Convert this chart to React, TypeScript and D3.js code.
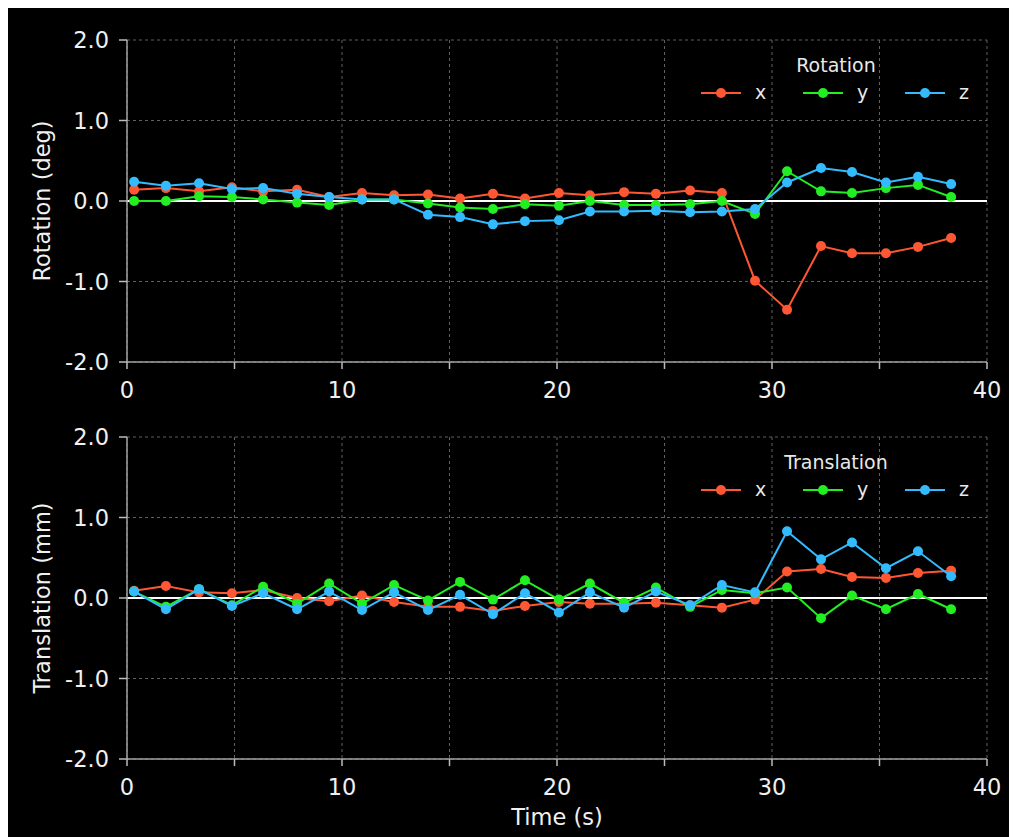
import React from "react";
import * as d3 from "d3";

const times = [0.33, 1.81, 3.35, 4.88, 6.33, 7.91, 9.4, 10.93, 12.42, 14.0, 15.49, 17.02, 18.51, 20.09, 21.53, 23.12, 24.6, 26.19, 27.67, 29.21, 30.7, 32.28, 33.72, 35.3, 36.79, 38.33];

const rotX = [0.14, 0.16, 0.12, 0.17, 0.12, 0.14, 0.05, 0.1, 0.07, 0.08, 0.03, 0.09, 0.03, 0.1, 0.07, 0.11, 0.09, 0.13, 0.1, -0.99, -1.35, -0.56, -0.65, -0.65, -0.57, -0.46];
const rotY = [0.0, 0.0, 0.06, 0.05, 0.02, -0.02, -0.05, 0.02, 0.02, -0.03, -0.08, -0.1, -0.04, -0.06, 0.0, -0.05, -0.05, -0.04, 0.0, -0.16, 0.37, 0.12, 0.1, 0.16, 0.2, 0.05];
const rotZ = [0.24, 0.19, 0.22, 0.15, 0.16, 0.09, 0.05, 0.02, 0.02, -0.17, -0.2, -0.29, -0.25, -0.24, -0.13, -0.13, -0.12, -0.14, -0.13, -0.1, 0.23, 0.41, 0.36, 0.23, 0.3, 0.21];

const trX = [0.09, 0.15, 0.07, 0.06, 0.1, 0.0, -0.04, 0.03, -0.05, -0.11, -0.11, -0.16, -0.1, -0.05, -0.07, -0.07, -0.06, -0.09, -0.12, -0.02, 0.33, 0.36, 0.26, 0.25, 0.31, 0.34];
const trY = [0.08, -0.11, 0.11, -0.09, 0.14, -0.07, 0.18, -0.07, 0.16, -0.03, 0.2, -0.02, 0.22, -0.02, 0.18, -0.06, 0.13, -0.11, 0.1, 0.06, 0.13, -0.25, 0.03, -0.14, 0.05, -0.14];
const trZ = [0.08, -0.14, 0.11, -0.1, 0.06, -0.14, 0.08, -0.15, 0.07, -0.15, 0.04, -0.2, 0.06, -0.18, 0.07, -0.12, 0.08, -0.09, 0.16, 0.07, 0.83, 0.48, 0.69, 0.37, 0.58, 0.27];

const xTicks = [0, 5, 10, 15, 20, 25, 30, 35, 40];
const xTickLabels = [0, 10, 20, 30, 40];
const yTicks = [-2, -1, 0, 1, 2];
const seriesNames = ["x", "y", "z"];
const colors = ["#ff5733", "#22ee22", "#33bbff"];

const FONT = "DejaVu Sans, sans-serif";
const X0 = 127, X1 = 987;

type PanelProps = {
  top: number; bottom: number; series: number[][]; ylabel: string; title: string; legendY: number;
};

function Panel({ top, bottom, series, ylabel, title, legendY }: PanelProps) {
  const x = d3.scaleLinear().domain([0, 40]).range([X0, X1]);
  const y = d3.scaleLinear().domain([-2, 2]).range([bottom, top]);
  const line = d3.line<number>().x((_, i) => x(times[i])).y((d) => y(d));
  const legendXs = [721, 823, 925];
  return (
    <g>
      {xTicks.map((t) => (
        <line key={"gx" + t} x1={x(t)} x2={x(t)} y1={top} y2={bottom} stroke="#606060" strokeWidth={1} strokeDasharray="3,3" />
      ))}
      {yTicks.map((t) => (
        <line key={"gy" + t} x1={X0} x2={X1} y1={y(t)} y2={y(t)} stroke="#606060" strokeWidth={1} strokeDasharray="3,3" />
      ))}
      <line x1={X0} x2={X1} y1={y(0)} y2={y(0)} stroke="#ffffff" strokeWidth={2} />
      <line x1={X0} x2={X0} y1={top} y2={bottom} stroke="#a0a0a0" strokeWidth={1.5} />
      <line x1={X0} x2={X1} y1={bottom} y2={bottom} stroke="#a0a0a0" strokeWidth={1.5} />
      {yTicks.map((t) => (
        <g key={"ty" + t}>
          <line x1={X0 - 8} x2={X0} y1={y(t)} y2={y(t)} stroke="#bbbbbb" strokeWidth={1.5} />
          <text x={X0 - 18} y={y(t)} dy="0.36em" textAnchor="end" fill="#f0f0f0" fontSize={22.5} fontFamily={FONT}>
            {t.toFixed(1)}
          </text>
        </g>
      ))}
      {xTicks.map((t) => (
        <line key={"tx" + t} x1={x(t)} x2={x(t)} y1={bottom} y2={bottom + 7} stroke="#bbbbbb" strokeWidth={1.5} />
      ))}
      {xTickLabels.map((t) => (
        <text key={"lx" + t} x={x(t)} y={bottom + 36} textAnchor="middle" fill="#f0f0f0" fontSize={22.5} fontFamily={FONT}>
          {t}
        </text>
      ))}
      <text transform={`translate(50,${(top + bottom) / 2}) rotate(-90)`} textAnchor="middle" fill="#f0f0f0" fontSize={22.5} fontFamily={FONT}>
        {ylabel}
      </text>
      {series.map((s, k) => (
        <g key={"s" + k}>
          <path d={line(s) || ""} fill="none" stroke={colors[k]} strokeWidth={2} />
          {s.map((v, i) => (
            <circle key={i} cx={x(times[i])} cy={y(v)} r={5} fill={colors[k]} />
          ))}
        </g>
      ))}
      <text x={836} y={legendY - 21} textAnchor="middle" fill="#e8e8e8" fontSize={19} fontFamily={FONT}>
        {title}
      </text>
      {seriesNames.map((n, k) => (
        <g key={"lg" + n}>
          <line x1={legendXs[k] - 20} x2={legendXs[k] + 20} y1={legendY} y2={legendY} stroke={colors[k]} strokeWidth={2} />
          <circle cx={legendXs[k]} cy={legendY} r={5} fill={colors[k]} />
          <text x={legendXs[k] + 34} y={legendY} dy="0.33em" fill="#e8e8e8" fontSize={19} fontFamily={FONT}>
            {n}
          </text>
        </g>
      ))}
    </g>
  );
}

export default function App() {
  return (
    <svg width={1001} height={830} style={{ display: "block", background: "#000" }}>
      <rect x={0} y={0} width={1001} height={830} fill="#000" />
      <g transform="translate(-8,-8)">
        <Panel top={40} bottom={362} series={[rotX, rotY, rotZ]} ylabel="Rotation (deg)" title="Rotation" legendY={93} />
        <Panel top={437} bottom={759} series={[trX, trY, trZ]} ylabel="Translation (mm)" title="Translation" legendY={490} />
        <text x={557} y={825} textAnchor="middle" fill="#f0f0f0" fontSize={22.5} fontFamily={FONT}>
          Time (s)
        </text>
      </g>
    </svg>
  );
}
